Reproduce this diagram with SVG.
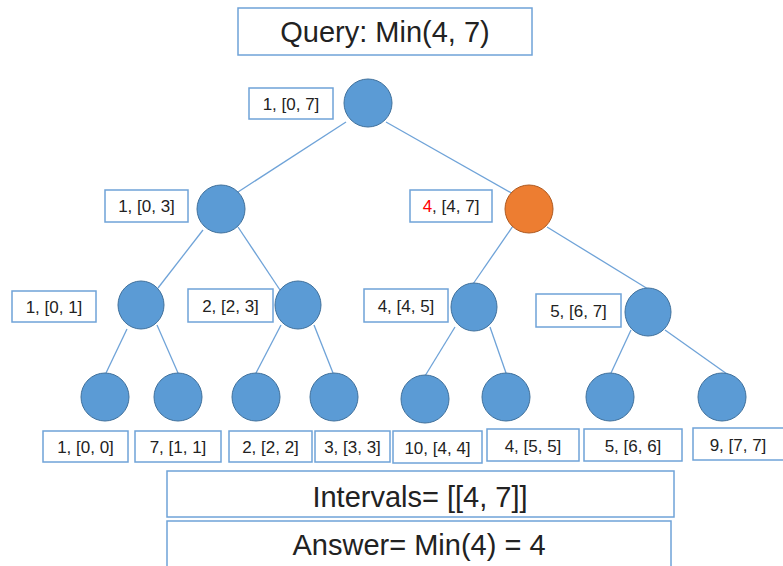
<svg xmlns="http://www.w3.org/2000/svg" width="783" height="566" viewBox="0 0 783 566">
<style>
.bg{fill:#fff}
.box{fill:#fff;stroke:#6fa3d8;stroke-width:1.5}
.node{fill:#5b9bd5;stroke:#41719c;stroke-width:1}
.hl{fill:#ed7d31;stroke:#ae5a21;stroke-width:1}
.edge{stroke:#6fa3d8;stroke-width:1.3;fill:none}
.lbl{font-family:"Liberation Sans",Arial,sans-serif;font-size:17px;fill:#222;text-anchor:middle}
.big{font-family:"Liberation Sans",Arial,sans-serif;font-size:29px;fill:#222;text-anchor:middle}
.red{fill:#ff0000}
</style>
<rect class="bg" x="0" y="0" width="783" height="566"/>
<g id="connectors">
<line class="edge" x1="346" y1="122" x2="238" y2="192"/>
<line class="edge" x1="386" y1="122" x2="515" y2="195"/>
<line class="edge" x1="203" y1="230" x2="158" y2="288"/>
<line class="edge" x1="238" y1="227" x2="280" y2="290"/>
<line class="edge" x1="513" y1="226" x2="473" y2="284"/>
<line class="edge" x1="547" y1="227" x2="648" y2="289"/>
<line class="edge" x1="127" y1="329" x2="106" y2="373"/>
<line class="edge" x1="157" y1="325" x2="178" y2="373"/>
<line class="edge" x1="281" y1="325" x2="256" y2="373"/>
<line class="edge" x1="314" y1="325" x2="333" y2="373"/>
<line class="edge" x1="455" y1="327" x2="425" y2="376"/>
<line class="edge" x1="490" y1="327" x2="506" y2="373"/>
<line class="edge" x1="631" y1="330" x2="611" y2="373"/>
<line class="edge" x1="665" y1="330" x2="727" y2="374"/>
</g>
<g id="query"><rect class="box" x="238" y="8" width="294" height="47"/><text class="big" x="385" y="42">Query: Min(4, 7)</text></g>
<g id="n0"><circle class="node" cx="368" cy="103" r="24"/><rect class="box" x="249" y="88" width="84" height="31"/><text class="lbl" x="291" y="110">1, [0, 7]</text></g>
<g id="n1"><circle class="node" cx="221" cy="209" r="24"/><rect class="box" x="105" y="190" width="83" height="32"/><text class="lbl" x="146.5" y="212">1, [0, 3]</text></g>
<g id="n2"><circle class="hl" cx="529" cy="209" r="24"/><rect class="box" x="410" y="190" width="82" height="32"/><text class="lbl" x="451" y="212"><tspan class="red">4</tspan>, [4, 7]</text></g>
<g id="n3"><ellipse class="node" cx="141" cy="305" rx="23" ry="24"/><rect class="box" x="12" y="291" width="84" height="31"/><text class="lbl" x="54" y="313">1, [0, 1]</text></g>
<g id="n4"><ellipse class="node" cx="298" cy="305" rx="23" ry="24"/><rect class="box" x="188" y="289" width="85" height="33"/><text class="lbl" x="230.5" y="312">2, [2, 3]</text></g>
<g id="n5"><ellipse class="node" cx="474" cy="307" rx="23" ry="24"/><rect class="box" x="364" y="289" width="84" height="33"/><text class="lbl" x="406" y="312">4, [4, 5]</text></g>
<g id="n6"><ellipse class="node" cx="648" cy="312" rx="23" ry="24"/><rect class="box" x="536" y="294" width="85" height="33"/><text class="lbl" x="578.5" y="317">5, [6, 7]</text></g>
<g id="n7"><circle class="node" cx="105" cy="397" r="24"/><rect class="box" x="43" y="431" width="85" height="31"/><text class="lbl" x="85.5" y="453">1, [0, 0]</text></g>
<g id="n8"><circle class="node" cx="178" cy="397" r="24"/><rect class="box" x="135" y="431" width="86" height="31"/><text class="lbl" x="178" y="453">7, [1, 1]</text></g>
<g id="n9"><circle class="node" cx="256" cy="397" r="24"/><rect class="box" x="229" y="431" width="83" height="31"/><text class="lbl" x="270.5" y="453">2, [2, 2]</text></g>
<g id="n10"><circle class="node" cx="334" cy="397" r="24"/><rect class="box" x="315" y="431" width="75" height="31"/><text class="lbl" x="352.5" y="453">3, [3, 3]</text></g>
<g id="n11"><circle class="node" cx="425" cy="399" r="24"/><rect class="box" x="393" y="431" width="89" height="32"/><text class="lbl" x="437.5" y="454">10, [4, 4]</text></g>
<g id="n12"><circle class="node" cx="506" cy="397" r="24"/><rect class="box" x="487" y="429" width="92" height="32"/><text class="lbl" x="533" y="452">4, [5, 5]</text></g>
<g id="n13"><circle class="node" cx="610" cy="397" r="24"/><rect class="box" x="584" y="429" width="98" height="32"/><text class="lbl" x="633" y="452">5, [6, 6]</text></g>
<g id="n14"><circle class="node" cx="722" cy="397" r="24"/><rect class="box" x="693" y="428" width="92" height="32"/><text class="lbl" x="738" y="451">9, [7, 7]</text></g>
<g id="intervals"><rect class="box" x="167" y="471" width="507" height="46"/><text class="big" x="420" y="507">Intervals= [[4, 7]]</text></g>
<g id="answer"><rect class="box" x="167" y="521" width="504" height="50"/><text class="big" x="419" y="555">Answer= Min(4) = 4</text></g>
</svg>
